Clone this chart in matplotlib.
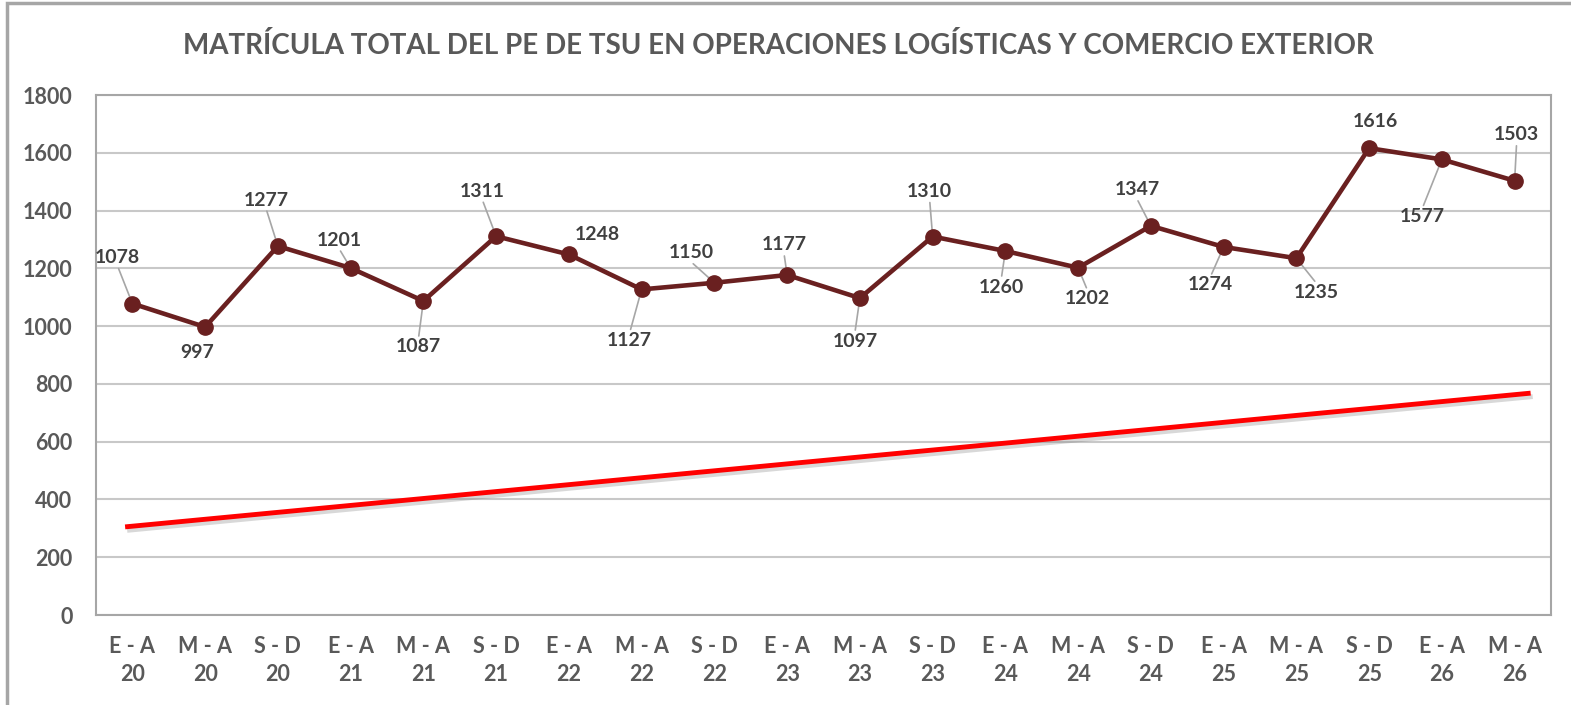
import matplotlib
matplotlib.use("Agg")
import matplotlib.pyplot as plt
import matplotlib.patheffects as pe
from matplotlib.patches import Rectangle

# ---- data ----
periods = ["E - A", "M - A", "S - D"] * 6 + ["E - A", "M - A"]
years = ["20", "20", "20", "21", "21", "21", "22", "22", "22", "23", "23", "23",
         "24", "24", "24", "25", "25", "25", "26", "26"]
enrollment = [1078, 997, 1277, 1201, 1087, 1311, 1248, 1127, 1150, 1177,
              1097, 1310, 1260, 1202, 1347, 1274, 1235, 1616, 1577, 1503]
trend_values = [305, 768]
trend_positions = [-0.1, 19.22]
title = "MATRÍCULA TOTAL DEL PE DE TSU EN OPERACIONES LOGÍSTICAS Y COMERCIO EXTERIOR"
yticks = list(range(0, 1801, 200))

# label offsets (pixels) and whether a leader line is drawn
label_offsets = [(-15, 46), (-8, -26), (-12, 46), (-11, 28), (-5, -46), (-14, 45),
                 (28, 20), (-12, -51), (-23, 30), (-3, 30), (-5, -43), (-3, 45),
                 (-4, -36), (9, -31), (-14, 36), (-13, -38), (20, -34), (6, 27),
                 (-20, -57), (2, 46)]
leaders = [True, False, True, True, True, True, False, True, True, True,
           True, True, True, True, True, True, True, False, True, True]

plt.rcParams['font.family'] = ['Lato', 'DejaVu Sans']

fig = plt.figure(figsize=(15.71, 7.05), dpi=100)
fig.patch.set_facecolor("white")

# outer frame
fig.patches.append(Rectangle((7 / 1571, -0.02), 1.1, 1 - 3 / 705 + 0.02,
                             transform=fig.transFigure, fill=False,
                             edgecolor="#A6A6A6", linewidth=2.5, zorder=0))

ax = fig.add_axes([96 / 1571, 90 / 705, (1551 - 96) / 1571, (615 - 95) / 705])
x = list(range(len(enrollment)))

ax.set_xlim(-0.5, len(enrollment) - 0.5)
ax.set_ylim(0, 1800)
ax.set_yticks(yticks)
ax.set_yticklabels([str(v) for v in yticks], fontsize=15.5, fontweight="bold", color="#595959")
ax.set_xticks(x)
ax.set_xticklabels([f"{p}\n{y}" for p, y in zip(periods, years)], fontsize=15.5,
                   fontweight="bold", color="#595959", linespacing=1.45)
ax.tick_params(axis="x", length=0, pad=15)
ax.tick_params(axis="y", length=0, pad=17)
ax.grid(axis="y", color="#C8C8C8", linewidth=1.5)
ax.set_axisbelow(True)
for s in ax.spines.values():
    s.set_color("#A6A6A6")
    s.set_linewidth(1.5)

# trend line
ax.plot(trend_positions, trend_values, color="#FF0000", linewidth=3.5,
        solid_capstyle="butt", zorder=3,
        path_effects=[pe.SimpleLineShadow(offset=(1.5, -2.5), shadow_color="gray", alpha=0.3),
                      pe.Normal()])

# main series
ax.plot(x, enrollment, color="#6A2020", linewidth=3.3, marker="o", markersize=11,
        zorder=4)

for xi, v, (dx, dy), ld in zip(x, enrollment, label_offsets, leaders):
    ax.annotate(str(v), (xi, v), xytext=(dx, dy), textcoords="offset pixels",
                ha="center", va="center", fontsize=14, fontweight="bold",
                color="#404040", zorder=5)
    if ld:
        ax.annotate("", (xi, v), xytext=(dx * 0.92, dy - (11 if dy > 0 else -11)),
                    textcoords="offset pixels",
                    arrowprops=dict(arrowstyle="-", color="#A6A6A6", lw=1.2,
                                    shrinkA=0, shrinkB=3), zorder=3)

fig.text(778 / 1571, 1 - 45 / 705, title, ha="center", va="center", fontsize=20,
         fontweight="bold", color="#595959")

fig.savefig("out.png", dpi=100, facecolor="white")
